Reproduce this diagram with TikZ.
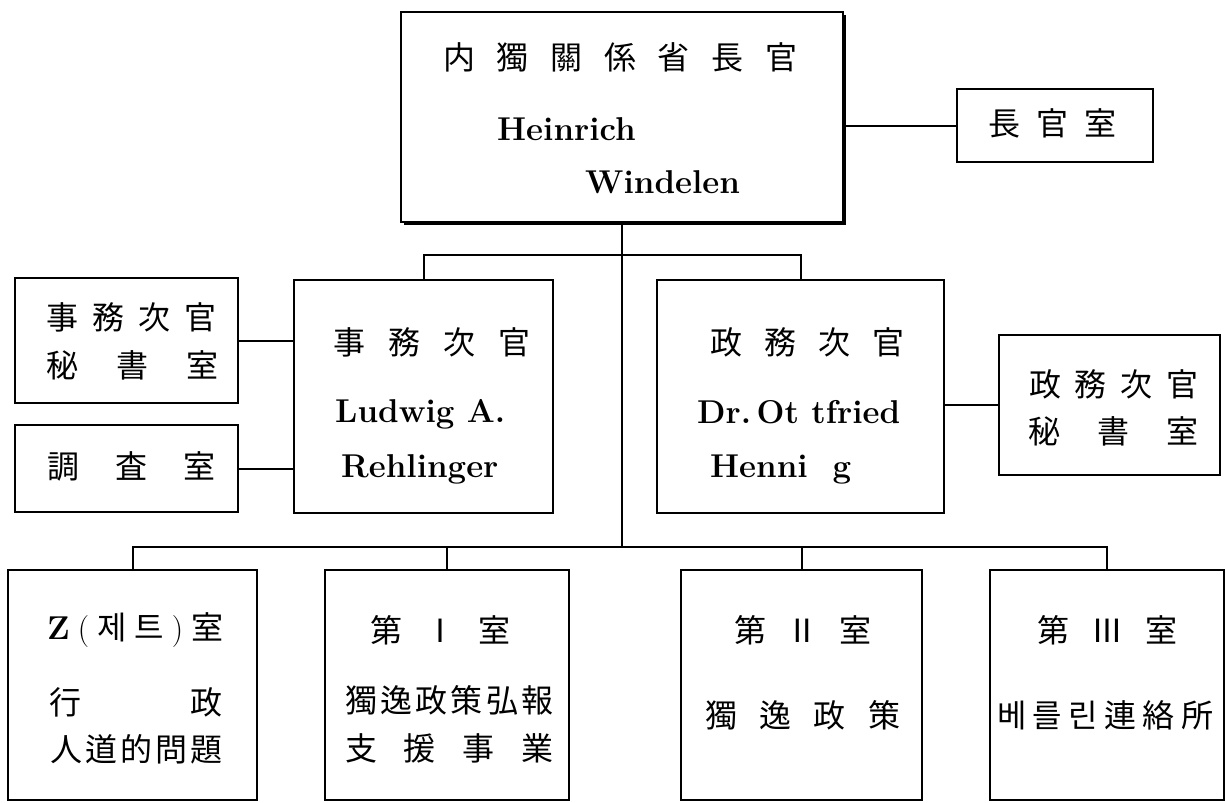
\documentclass[tikz,border=0pt]{standalone}
\usepackage{fontspec}
\newfontfamily\kr{Noto Sans CJK KR}
\usetikzlibrary{shadows}
\newcommand\spread[2]{\makebox[#1][s]{#2}}

\begin{document}
\begin{tikzpicture}[x=1pt, y=-1pt,
    box/.style={draw, line width=2pt, fill=white, inner sep=0pt},
    link/.style={line width=2pt},
    cjk/.style={inner sep=0pt, anchor=west, font={\kr\fontsize{32}{38}\selectfont}},
    latin/.style={inner sep=0pt, anchor=base west, font={\fontsize{33}{40}\selectfont\bfseries}}]
      \useasboundingbox (0,0) rectangle (1226,803);

      % boxes
      \node[box, minimum width=442, minimum height=210,
            drop shadow={shadow xshift=3pt, shadow yshift=-3pt, fill=black, opacity=1}] (chief) at (622,117) {};
      \node[box, minimum width=196, minimum height=73] (office) at (1055,125.5) {};
      \node[box, minimum width=223, minimum height=125] (adminsec) at (126.5,340.5) {};
      \node[box, minimum width=223, minimum height=87] (research) at (126.5,468.5) {};
      \node[box, minimum width=259, minimum height=233] (admin) at (423.5,396.5) {};
      \node[box, minimum width=287, minimum height=233] (parl) at (800.5,396.5) {};
      \node[box, minimum width=221, minimum height=140] (parlsec) at (1109.5,405) {};
      \node[box, minimum width=249, minimum height=230] (zsec) at (132.5,685) {};
      \node[box, minimum width=244, minimum height=230] (sec1) at (447,685) {};
      \node[box, minimum width=241, minimum height=230] (sec2) at (801.5,685) {};
      \node[box, minimum width=234, minimum height=230] (sec3) at (1107,685) {};

      % connectors
      \coordinate (split) at (chief.south |- 0,255);
      \coordinate (split2) at (chief.south |- 0,547);
      \draw[link] (chief.south) -- (split2);
      \draw[link] (office.west) -- (office.west -| chief.east);
      \draw[link] (admin.north) |- (split) -| (parl.north);
      \draw[link] (adminsec.east) -- (adminsec.east -| admin.west);
      \draw[link] (research.east) -- (research.east -| admin.west);
      \draw[link] (parlsec.west) -- (parlsec.west -| parl.east);
      \draw[link] (zsec.north) |- (split2) -| (sec3.north);
      \draw[link] (sec1.north) -- (sec1.north |- split2);
      \draw[link] (sec2.north) -- (sec2.north |- split2);

      % texts
      \node[cjk] (chief-t) at (443,57.5) {\spread{354pt}{内\hfill 獨\hfill 關\hfill 係\hfill 省\hfill 長\hfill 官}};
      \node[latin] (chief-n1) at (497,140) {Heinrich};
      \node[latin] (chief-n2) at (585,193) {Windelen};
      \node[cjk] (office-t) at (988,123) {\spread{128pt}{長\hfill 官\hfill 室}};

      \node[cjk] (adminsec-t1) at (46,317) {\spread{170pt}{事\hfill 務\hfill 次\hfill 官}};
      \node[cjk] (adminsec-t2) at (46,365) {\spread{172pt}{秘\hfill 書\hfill 室}};
      \node[cjk] (research-t) at (47,466) {\spread{168pt}{調\hfill 査\hfill 室}};

      \node[cjk] (admin-t) at (333,342) {\spread{197pt}{事\hfill 務\hfill 次\hfill 官}};
      \node[latin] (admin-n1) at (335,422) {Ludwig A.};
      \node[latin] (admin-n2) at (341,477) {Rehlinger};

      \node[cjk] (parl-t) at (710,342) {\spread{194pt}{政\hfill 務\hfill 次\hfill 官}};
      \node[latin] (parl-n1) at (697,423) {Dr.\,Ot tfried};
      \node[latin] (parl-n2) at (710,477) {Henni~ g};

      \node[cjk] (parlsec-t1) at (1029,384) {\spread{169pt}{政\hfill 務\hfill 次\hfill 官}};
      \node[cjk] (parlsec-t2) at (1028,431) {\spread{170pt}{秘\hfill 書\hfill 室}};

      \node[cjk] (zsec-t1) at (47,630) {\spread{176pt}{{\rmfamily\fontsize{33}{40}\selectfont\bfseries Z}\hfill {\rmfamily (}\hfill 제\hfill 트\hfill {\rmfamily )}\hfill 室}};
      \node[cjk] (zsec-t2) at (49,702) {\spread{173pt}{行\hfill 政}};
      \node[cjk] (zsec-t3) at (50,749) {\spread{172pt}{人\hfill 道\hfill 的\hfill 問\hfill 題}};

      \node[cjk] (sec1-t1) at (370,630) {\spread{140pt}{第\hfill Ⅰ\hfill 室}};
      \node[cjk] (sec1-t2) at (345,700) {\spread{208pt}{獨\hfill 逸\hfill 政\hfill 策\hfill 弘\hfill 報}};
      \node[cjk] (sec1-t3) at (345,748) {\spread{208pt}{支\hfill 援\hfill 事\hfill 業}};

      \node[cjk] (sec2-t1) at (734,630) {\spread{137pt}{第\hfill Ⅱ\hfill 室}};
      \node[cjk] (sec2-t2) at (705,715) {\spread{195pt}{獨\hfill 逸\hfill 政\hfill 策}};

      \node[cjk] (sec3-t1) at (1037,630) {\spread{140pt}{第\hfill Ⅲ\hfill 室}};
      \node[cjk] (sec3-t2) at (997,715) {\spread{216pt}{베\hfill 를\hfill 린\hfill 連\hfill 絡\hfill 所}};
    \end{tikzpicture}
\end{document}
